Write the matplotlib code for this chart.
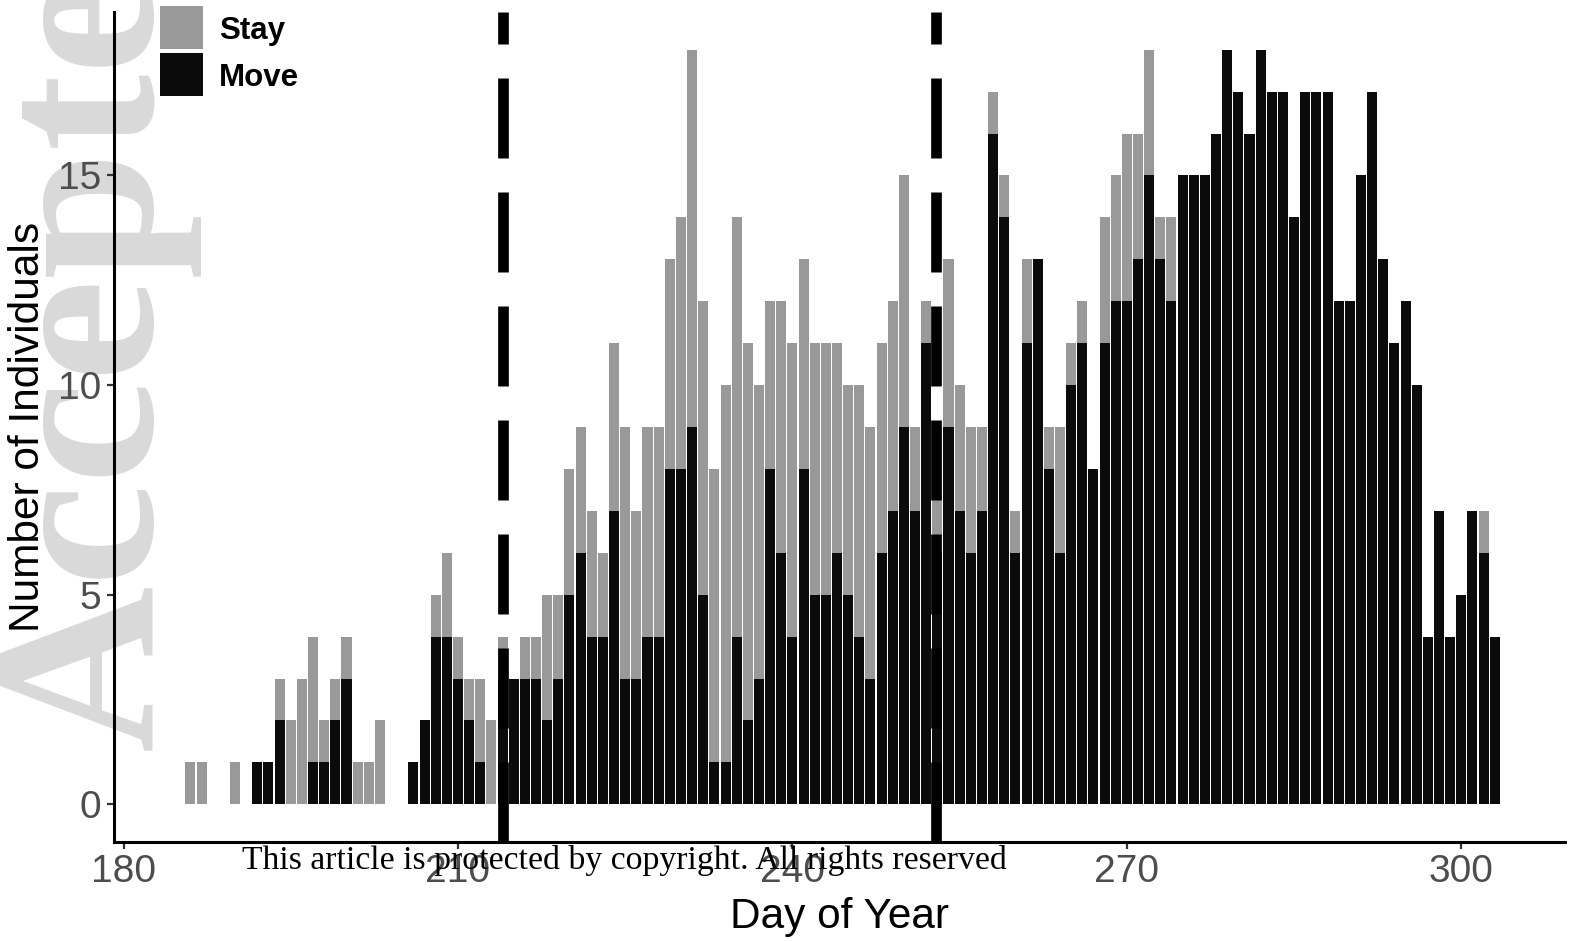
import matplotlib
matplotlib.use("Agg")
import matplotlib.pyplot as plt
from matplotlib.patches import Rectangle
import numpy as np

# Daily counts of tracked individuals, split by behaviour
days = list(range(186, 304))
move = [0, 0, 0, 0, 0, 0, 1, 1, 2, 0,
        0, 1, 1, 2, 3, 0, 0, 0, 0, 0,
        1, 2, 4, 4, 3, 2, 1, 0, 3, 3,
        3, 3, 2, 3, 5, 6, 4, 4, 7, 3,
        3, 4, 4, 8, 8, 9, 5, 1, 1, 4,
        2, 3, 8, 6, 4, 8, 5, 5, 6, 5,
        4, 3, 6, 7, 9, 7, 11, 6, 9, 7,
        6, 7, 16, 14, 6, 11, 13, 8, 6, 10,
        11, 8, 11, 12, 12, 13, 15, 13, 12, 15,
        15, 15, 16, 18, 17, 16, 18, 17, 17, 14,
        17, 17, 17, 12, 12, 15, 17, 13, 11, 12,
        10, 4, 7, 4, 5, 7, 6, 4]
stay = [1, 1, 0, 0, 1, 0, 0, 0, 1, 2,
        3, 3, 1, 1, 1, 1, 1, 2, 0, 0,
        0, 0, 1, 2, 1, 1, 2, 2, 1, 0,
        1, 1, 3, 2, 3, 3, 3, 2, 4, 6,
        4, 5, 5, 5, 6, 9, 7, 7, 9, 10,
        9, 7, 4, 6, 7, 5, 6, 6, 5, 5,
        6, 6, 5, 5, 6, 2, 1, 3, 4, 3,
        3, 2, 1, 1, 1, 2, 0, 1, 3, 1,
        1, 0, 3, 3, 4, 3, 3, 1, 2, 0,
        0, 0, 0, 0, 0, 0, 0, 0, 0, 0,
        0, 0, 0, 0, 0, 0, 0, 0, 0, 0,
        0, 0, 0, 0, 0, 0, 1, 0]
period_bounds = [214.0, 252.9]
x_ticks = [180, 210, 240, 270, 300]
y_ticks = [0, 5, 10, 15]

STAY_COLOR = "#999999"
MOVE_COLOR = "#0b0b0b"
SANS = "Liberation Sans"
SERIF = "Liberation Serif"

W, H = 1572, 941
fig = plt.figure(figsize=(W / 100, H / 100), dpi=100)
fig.patch.set_facecolor("white")


def fx(px):
    return px / W


def fy(py):
    return 1 - py / H


# Panel placed in pixel terms
left, right, top, bottom = 113.5, 1565, 12, 842
ax = fig.add_axes([fx(left), fy(bottom), fx(right - left), (bottom - top) / H])
ax.set_facecolor("none")

ax.bar(days, move, width=0.9, color=MOVE_COLOR, linewidth=0, zorder=2)
ax.bar(days, stay, width=0.9, bottom=move, color=STAY_COLOR, linewidth=0, zorder=2)

lw_px = 10.7
for xv in period_bounds:
    ax.axvline(xv, color="black", lw=lw_px * 72 / 100,
               dashes=(80 / lw_px, 34 / lw_px), dash_capstyle="butt", zorder=3)

ax.set_xlim(179.1, 309.3)
ax.set_ylim(-0.9, 18.9)
ax.set_xticks(x_ticks)
ax.set_yticks(y_ticks)

for s in ["top", "right"]:
    ax.spines[s].set_visible(False)
for s in ["left", "bottom"]:
    ax.spines[s].set_linewidth(2.2)
    ax.spines[s].set_color("black")

ax.tick_params(axis="both", length=5, width=1.6, color="#333333",
               labelcolor="#4d4d4d", labelsize=28, pad=4.0)
for lab in ax.get_xticklabels() + ax.get_yticklabels():
    lab.set_family(SANS)

ax.set_xlabel("Day of Year", fontsize=30.5, family=SANS, color="black", labelpad=5)
ax.set_ylabel("Number of Individuals", fontsize=30.5, family=SANS, color="black", labelpad=7)

# Legend keys drawn in pixel positions
for (y0, y1), col, name in [((6, 49), STAY_COLOR, "Stay"), ((53, 96), MOVE_COLOR, "Move")]:
    fig.add_artist(Rectangle((fx(160), fy(y1)), fx(203) - fx(160), fy(y0) - fy(y1),
                             transform=fig.transFigure, facecolor=col, edgecolor="none",
                             zorder=5))
    fig.text(fx(219), fy((y0 + y1) / 2 + 4), name, fontsize=22.5, fontweight="bold",
             family=SANS, color="black", va="center", ha="left", zorder=5)

# Journal watermark behind the panel
fig.text(fx(153), fy(752), "Accepted Article", rotation=90, rotation_mode="anchor",
         ha="left", va="baseline", fontsize=166, fontweight="bold", family=SERIF,
         color="#d9d9d9", zorder=-1)

# Copyright notice over the axis labels
fig.text(fx(242), fy(869), "This article is protected by copyright. All rights reserved",
         fontsize=24.3, family=SERIF, color="black", ha="left", va="baseline", zorder=10)

fig.savefig("out.png", dpi=100, facecolor="white")
